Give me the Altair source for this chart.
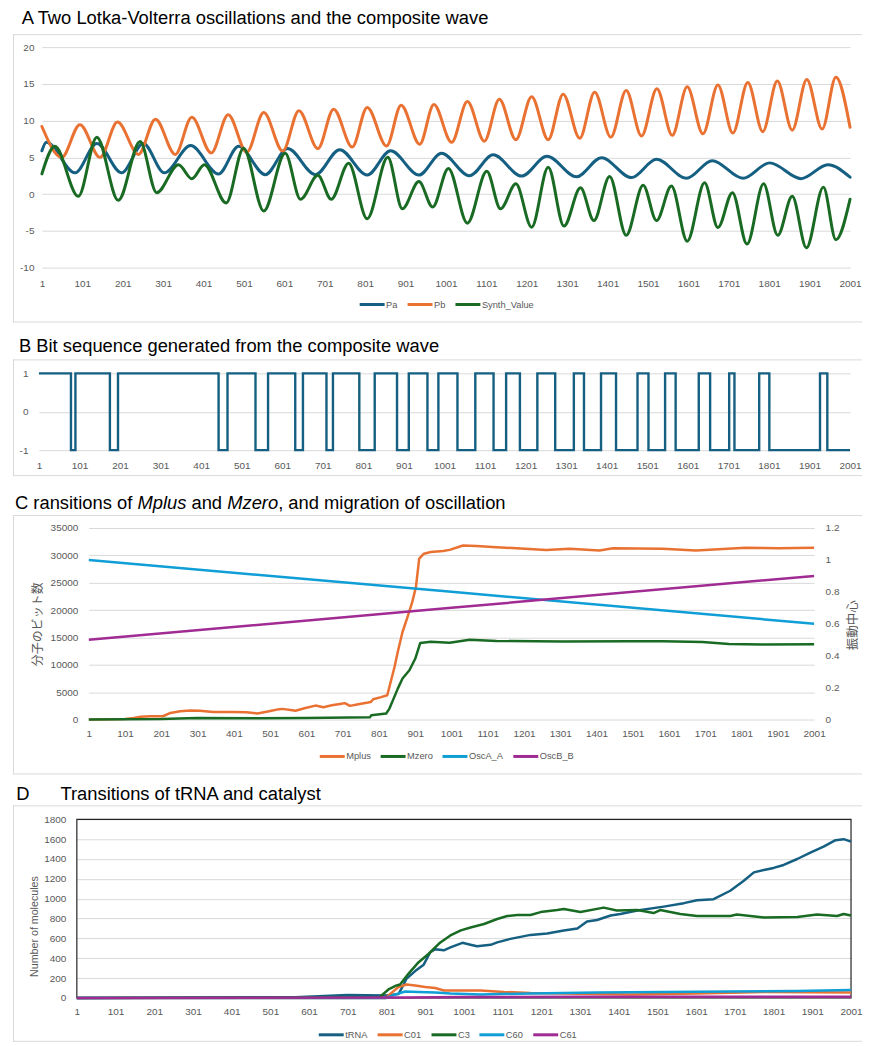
import altair as alt
import pandas as pd

# ---------------- shared ----------------
X_TICKS = [1, 101, 201, 301, 401, 501, 601, 701, 801, 901, 1001, 1101, 1201,
           1301, 1401, 1501, 1601, 1701, 1801, 1901, 2001]

# ---------------- Panel A (extrema) ----------------
PA_T = [1, 12, 83, 137, 198, 252, 304, 369, 438, 488, 554, 609, 678, 738, 806, 864, 934,
        990, 1059, 1118, 1188, 1251, 1324, 1386, 1460, 1522, 1596, 1660, 1736, 1802,
        1880, 1946, 2001]
PA_V = [5.9, 7.05, 2.9, 6.9, 2.9, 6.9, 2.9, 6.6, 2.75, 6.5, 2.65, 6.2, 2.65, 6.05, 2.6,
        5.9, 2.6, 5.55, 2.5, 5.35, 2.45, 5.15, 2.35, 4.95, 2.25, 4.75, 2.15, 4.55, 2.15,
        4.25, 2.1, 4.0, 2.3]
PB_T = [1, 50, 95, 145, 188, 240, 282, 331, 372, 420, 462, 508, 550, 597, 637, 684, 723,
        769, 806, 854, 890, 936, 971, 1015, 1054, 1096, 1133, 1174, 1213, 1254, 1291,
        1332, 1369, 1409, 1447, 1485, 1523, 1561, 1598, 1637, 1674, 1711, 1748, 1785,
        1821, 1858, 1894, 1932, 1966, 2001]
PB_V = [9.2, 5.0, 9.45, 5.0, 9.8, 5.4, 10.2, 5.4, 10.45, 5.6, 10.8, 5.7, 11.1, 5.85,
        11.35, 6.2, 11.55, 6.4, 11.8, 6.55, 12.1, 6.8, 12.2, 7.05, 12.6, 7.2, 12.9, 7.4,
        13.25, 7.4, 13.6, 7.6, 13.85, 7.75, 14.1, 7.9, 14.35, 8.0, 14.6, 8.2, 14.85, 8.3,
        15.2, 8.5, 15.4, 8.7, 15.6, 8.85, 15.9, 9.1]
SV_T = [1, 33, 91, 137, 190, 244, 285, 339, 372, 403, 457, 500, 550, 603, 641, 684, 717,
        760, 806, 857, 893, 934, 968, 1007, 1054, 1102, 1136, 1174, 1213, 1254, 1293,
        1334, 1367, 1406, 1447, 1489, 1522, 1559, 1598, 1641, 1674, 1710, 1746, 1787,
        1822, 1858, 1893, 1935, 1966, 2001]
SV_V = [2.75, 6.5, -0.3, 7.75, -0.85, 7.15, 0.2, 4.0, 2.1, 4.0, -1.2, 6.25, -2.3, 5.55,
        -0.7, 2.55, -0.7, 4.2, -3.35, 5.0, -2.0, 1.7, -1.75, 3.5, -3.95, 3.1, -2.0, 1.4,
        -4.5, 3.65, -4.35, 0.85, -3.6, 2.4, -5.6, 1.2, -3.6, 1.1, -6.4, 1.55, -4.55, 0.2,
        -6.8, 1.4, -5.6, -0.3, -7.3, 0.95, -6.2, -0.7]

# ---------------- Panel B (bit sequence change points) ----------------
BIT_T = [1, 80, 91, 176, 196, 444, 466, 535, 566, 633, 652, 710, 726, 791, 829, 884, 913,
         959, 986, 1033, 1077, 1122, 1153, 1187, 1230, 1274, 1320, 1345, 1387, 1424, 1477,
         1504, 1545, 1571, 1628, 1656, 1703, 1716, 1777, 1802, 1927, 1945, 2001]
BIT_V = [1, -1, 1, -1, 1, -1, 1, -1, 1, -1, 1, -1, 1, -1, 1, -1, 1, -1, 1, -1, 1, -1,
         1, -1, 1, -1, 1, -1, 1, -1, 1, -1, 1, -1, 1, -1, 1, -1, 1, -1, 1, -1, -1]

# ---------------- Panel C ----------------
MP_T = [1, 101, 125, 144, 171, 198, 207, 226, 253, 280, 307, 344, 398, 435, 466, 498, 526,
        535, 562, 571, 598, 626, 648, 671, 698, 707, 721, 744, 771, 778, 785, 807, 824,
        830, 844, 853, 866, 880, 893, 903, 912, 925, 944, 978, 996, 1033, 1070, 1125,
        1180, 1262, 1327, 1409, 1446, 1583, 1675, 1812, 1904, 2001]
MP_V = [0, 100, 300, 500, 600, 600, 650, 1200, 1500, 1650, 1600, 1400, 1400, 1350, 1100,
        1500, 1900, 1950, 1700, 1600, 2100, 2550, 2250, 2600, 2900, 3000, 2500, 2800, 3100,
        3200, 3700, 4100, 4450, 6000, 9600, 12400, 16000, 18750, 21500, 24200, 29400,
        30300, 30600, 30800, 31000, 31800, 31700, 31500, 31300, 31000, 31200, 30900,
        31300, 31200, 30900, 31400, 31300, 31400]
MZ_T = [1, 200, 300, 471, 600, 776, 780, 821, 830, 853, 866, 885, 901, 915, 944, 996, 1051,
        1125, 1308, 1491, 1583, 1693, 1766, 1858, 2001]
MZ_V = [0, 100, 300, 250, 300, 400, 800, 1100, 2000, 5650, 7500, 9000, 11100, 14000, 14200,
        14050, 14600, 14350, 14250, 14300, 14300, 14150, 13800, 13700, 13750]
OA_T = [1, 1001, 2001]
OA_V = [1.0, 0.8, 0.6]
OB_T = [1, 1001, 2001]
OB_V = [0.5, 0.7, 0.9]

# ---------------- Panel D ----------------
TR_T = [1, 550, 700, 800, 832, 840, 853, 875, 897, 914, 927, 949, 966, 997, 1018, 1035,
        1070, 1087, 1121, 1173, 1216, 1259, 1294, 1319, 1345, 1380, 1405, 1449, 1517, 1569,
        1603, 1646, 1689, 1724, 1750, 1776, 1801, 1827, 1862, 1896, 1930, 1961, 1982, 2001]
TR_V = [0, 5, 30, 25, 40, 95, 195, 270, 335, 460, 490, 480, 510, 555, 535, 520, 535, 560,
        595, 635, 650, 680, 700, 770, 785, 830, 845, 880, 920, 955, 985, 995, 1080, 1180,
        1265, 1290, 1310, 1340, 1400, 1465, 1525, 1590, 1600, 1575]
C01_T = [1, 800, 806, 832, 853, 875, 901, 927, 949, 1001, 1044, 1104, 1173, 1259, 1431,
         1603, 1776, 2001]
C01_V = [0, 0, 25, 110, 135, 125, 110, 100, 75, 75, 75, 60, 50, 45, 35, 45, 60, 55]
C3_T = [1, 784, 806, 827, 836, 858, 884, 910, 936, 941, 966, 993, 1018, 1053, 1087, 1113,
        1139, 1173, 1199, 1242, 1259, 1302, 1362, 1396, 1449, 1491, 1508, 1560, 1603, 1689,
        1706, 1776, 1862, 1913, 1965, 1982, 2001]
C3_V = [0, 10, 85, 125, 135, 245, 360, 445, 545, 560, 630, 680, 710, 745, 795, 825, 835,
        835, 865, 885, 895, 865, 910, 880, 885, 855, 885, 845, 825, 825, 840, 810, 815, 840,
        825, 845, 830]
C60_T = [1, 800, 832, 849, 884, 927, 966, 1044, 1173, 1345, 1517, 1689, 1862, 2001]
C60_V = [0, 0, 45, 65, 60, 55, 45, 35, 45, 55, 60, 65, 70, 80]
C61_T = [1, 850, 1000, 1300, 2001]
C61_V = [0, 3, 8, 12, 12]

# ---------------- styling ----------------
FONT = "Liberation Sans, Arial, sans-serif"
CJK = "Noto Sans CJK JP, sans-serif"
GRAY = "#595959"
GRID = "#d9d9d9"
BLUE, ORANGE, GREEN, SKY, PURPLE = "#156082", "#E97132", "#196B24", "#0F9ED5", "#A02B93"
TFS = 18.4
W = 851            # every panel spans the same width (frame left edge = view origin)
DECO = pd.DataFrame({"k": [0]})


def long_df(series, field):
    rows = []
    for name, ts, vs in series:
        for t, v in zip(ts, vs):
            rows.append({"t": t, "v": v, field: name})
    return pd.DataFrame(rows)


def band(y1, y2):
    return alt.Chart(DECO).mark_rect(fill="white", fillOpacity=0, strokeOpacity=0).encode(
        x=alt.value(0), x2=alt.value(W), y=alt.value(y1), y2=alt.value(y2))


def frame(y1, y2):
    top = alt.Chart(DECO).mark_rule(color=GRID, strokeWidth=1).encode(
        x=alt.value(0), x2=alt.value(W), y=alt.value(y1 + 0.5))
    bot = alt.Chart(DECO).mark_rule(color=GRID, strokeWidth=1).encode(
        x=alt.value(0), x2=alt.value(W), y=alt.value(y2 - 0.5))
    lef = alt.Chart(DECO).mark_rule(color=GRID, strokeWidth=1).encode(
        x=alt.value(0.5), y=alt.value(y1), y2=alt.value(y2))
    return [top, bot, lef]


def text(x, y, s, style="normal"):
    return alt.Chart(DECO).mark_text(align="left", baseline="alphabetic", font=FONT,
                                     fontSize=TFS, fontStyle=style, color="#000000").encode(
        x=alt.value(x), y=alt.value(y), text=alt.value(s))


def xenc(L, R, pad):
    return alt.X("t:Q", scale=alt.Scale(domain=[1, 2001], range=[L, R], nice=False, zero=False),
                 axis=alt.Axis(values=X_TICKS, labelExpr="'' + datum.value", labelFont=FONT,
                               labelFontSize=10, labelColor=GRAY, ticks=False, tickSize=0,
                               domain=False, grid=False, labelPadding=pad, labelFlush=False,
                               labelOverlap=False, title=None))


def yaxis(values, pad, offset, grid=True, **kw):
    return alt.Axis(values=values, labelExpr="'' + datum.value", labelFont=FONT,
                    labelFontSize=10, labelColor=GRAY, ticks=False, tickSize=0, domain=False,
                    grid=grid, gridColor=GRID, gridWidth=1, labelPadding=pad,
                    labelOverlap=False, offset=offset, **kw)


def legend(x, y):
    return alt.Legend(orient="none", legendX=x, legendY=y, direction="horizontal",
                      title=None, symbolType="stroke", symbolSize=625, symbolStrokeWidth=3,
                      labelFont=FONT, labelFontSize=9.3, labelColor=GRAY, labelOffset=0,
                      columnPadding=3, padding=0, gridAlign="none")


# ---------------- Panel A ----------------
LA, RA, HA = 29, 839, 221
dfA = long_df([("Pa", PA_T, PA_V), ("Pb", PB_T, PB_V), ("Synth_Value", SV_T, SV_V)], "sa")
linesA = alt.Chart(dfA).mark_line(strokeWidth=3, interpolate="monotone", strokeCap="round",
                                  strokeJoin="round").encode(
    x=xenc(LA, RA, 11),
    y=alt.Y("v:Q", scale=alt.Scale(domain=[-10, 20], nice=False, zero=False),
            axis=yaxis([-10, -5, 0, 5, 10, 15, 20], 8, -LA, title=None)),
    color=alt.Color("sa:N", scale=alt.Scale(domain=["Pa", "Pb", "Synth_Value"],
                                            range=[BLUE, ORANGE, GREEN]),
                    legend=legend(346, 244)))
panelA = alt.layer(
    band(-38, 276), *frame(-13, 276),
    linesA,
    text(8.7, -22.7, "A Two Lotka-Volterra oscillations and the composite wave"),
).properties(width=W, height=HA)

# ---------------- Panel B ----------------
LB, RB, HB = 26, 839, 77
dfB = pd.DataFrame({"t": BIT_T, "v": BIT_V})
lineB = alt.Chart(dfB).mark_line(strokeWidth=2.4, interpolate="step-after", color=BLUE).encode(
    x=xenc(LB, RB, 10),
    y=alt.Y("v:Q", scale=alt.Scale(domain=[-1, 1], nice=False, zero=False),
            axis=yaxis([-1, 0, 1], 11, -LB, title=None)))
panelB = alt.layer(
    band(-50, 103), *frame(-14, 103),
    lineB,
    text(6, -21, "B Bit sequence generated from the composite wave"),
).properties(width=W, height=HB)

# ---------------- Panel C ----------------
LC, RC, HC = 76, 803, 192
colC = alt.Color("sc:N", scale=alt.Scale(domain=["Mplus", "Mzero", "OscA_A", "OscB_B"],
                                         range=[ORANGE, GREEN, SKY, PURPLE]),
                 legend=legend(306, 215))
dfC1 = long_df([("Mplus", MP_T, MP_V), ("Mzero", MZ_T, MZ_V)], "sc")
dfC2 = long_df([("OscA_A", OA_T, OA_V), ("OscB_B", OB_T, OB_V)], "sc")
leftC = alt.Chart(dfC1).mark_line(strokeWidth=2.5, strokeJoin="round").encode(
    x=xenc(LC, RC, 9),
    y=alt.Y("v:Q", scale=alt.Scale(domain=[0, 35000], nice=False, zero=False),
            axis=yaxis([0, 5000, 10000, 15000, 20000, 25000, 30000, 35000], 11, -LC,
                       title="分子のビット数", titleFont=CJK, titleFontSize=12,
                       titleColor=GRAY, titleFontWeight="normal", titleAngle=270,
                       titleX=-51, titleY=96, titleAlign="center", titleBaseline="middle")),
    color=colC)
rightC = alt.Chart(dfC2).mark_line(strokeWidth=2.5).encode(
    x=xenc(LC, RC, 9),
    y=alt.Y("v:Q", scale=alt.Scale(domain=[0, 1.2], nice=False, zero=False),
            axis=yaxis([0, 0.2, 0.4, 0.6, 0.8, 1, 1.2], 11, RC - W, grid=False,
                       orient="right", title="振動中心", titleFont=CJK, titleFontSize=12.5,
                       titleColor=GRAY, titleFontWeight="normal", titleAngle=270,
                       titleX=38, titleY=97, titleAlign="center", titleBaseline="middle")),
    color=colC)
panelC = alt.layer(
    band(-51, 247), *frame(-13, 247),
    leftC, rightC,
    text(2, -19, "C ransitions of"),
    text(124.7, -19, "Mplus", "italic"),
    text(178.9, -19, "and"),
    text(214.7, -19, "Mzero", "italic"),
    text(265.8, -19, ", and migration of oscillation"),
).resolve_scale(y="independent").properties(width=W, height=HC)

# ---------------- Panel D ----------------
LD, RD, HD = 64, 840, 179
dfD = long_df([("tRNA", TR_T, TR_V), ("C01", C01_T, C01_V), ("C3", C3_T, C3_V),
               ("C60", C60_T, C60_V), ("C61", C61_T, C61_V)], "sd")
border = alt.Chart(DECO).mark_rect(fill="white", fillOpacity=0, stroke="#262626",
                                   strokeWidth=1.2).encode(
    x=alt.value(LD), x2=alt.value(RD), y=alt.value(0), y2=alt.value(HD))
linesD = alt.Chart(dfD).mark_line(strokeWidth=2.5, strokeJoin="round").encode(
    x=xenc(LD, RD, 9),
    y=alt.Y("v:Q", scale=alt.Scale(domain=[0, 1800], nice=False, zero=False),
            axis=yaxis([0, 200, 400, 600, 800, 1000, 1200, 1400, 1600, 1800], 11, -LD,
                       title="Number of molecules", titleFont=FONT, titleFontSize=10.7,
                       titleColor=GRAY, titleFontWeight="normal", titleAngle=270,
                       titleX=-42, titleY=107, titleAlign="center", titleBaseline="middle")),
    color=alt.Color("sd:N", scale=alt.Scale(domain=["tRNA", "C01", "C3", "C60", "C61"],
                                            range=[BLUE, ORANGE, GREEN, SKY, PURPLE]),
                    legend=legend(305, 202)))
panelD = alt.layer(
    band(-44, 223), *frame(-14, 223),
    border,
    linesD,
    text(3.2, -19, "D"),
    text(47.6, -19, "Transitions of tRNA and catalyst"),
).properties(width=W, height=HD)

chart = alt.vconcat(panelA, panelB, panelC, panelD, spacing=0).resolve_scale(
    color="independent").resolve_legend(color="independent").properties(
    padding={"left": 4, "top": 0, "right": 0, "bottom": 0},
    background="white",
).configure_view(stroke=None)

chart.save("out.html", embed_options={"renderer": "svg", "actions": False})
